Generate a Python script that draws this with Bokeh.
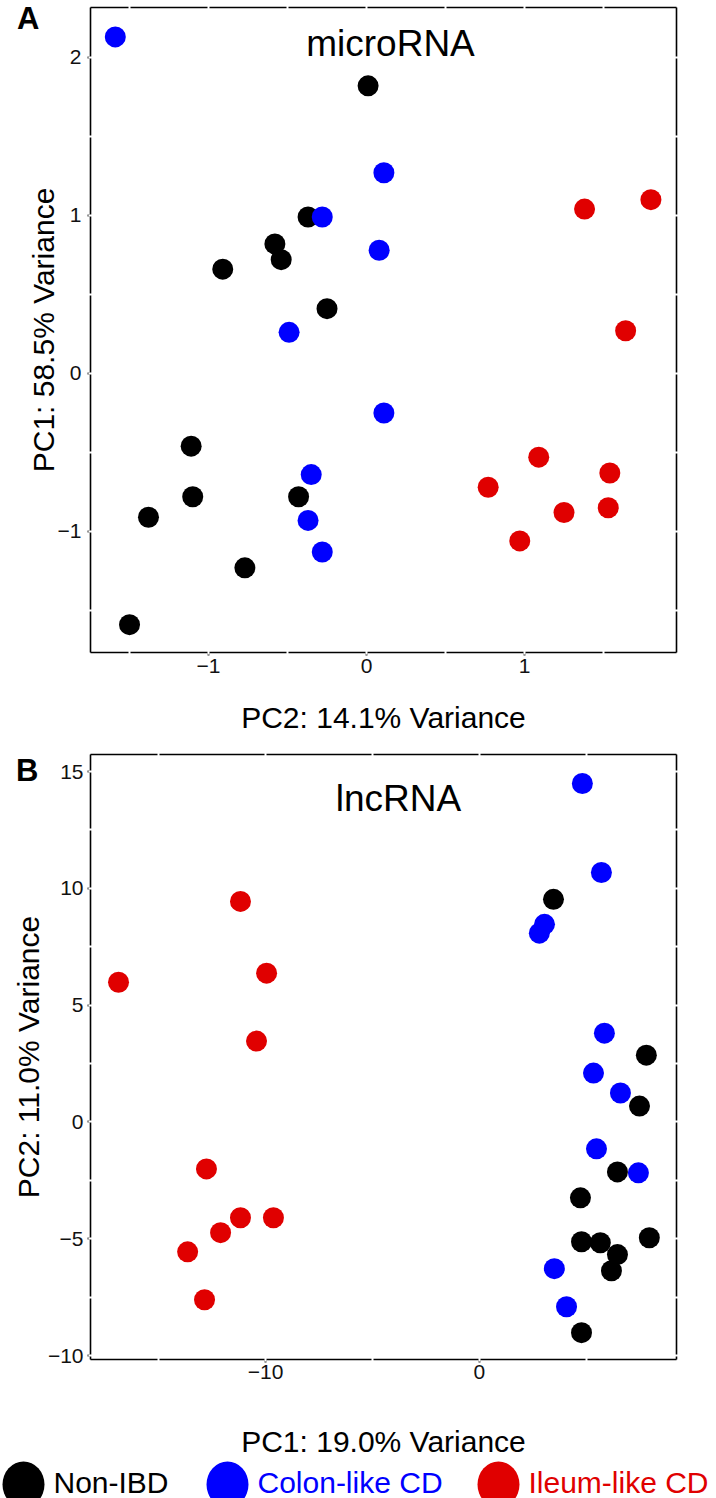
import math
from bokeh.plotting import figure
from bokeh.layouts import column, row
from bokeh.models import (Range1d, LinearAxis, SingleIntervalTicker, FixedTicker, Label,
                          ColumnDataSource, CustomJSTickFormatter)
from bokeh.core.properties import value
from bokeh.embed import file_html
from bokeh.resources import INLINE

# ---------------- data ----------------
groups = ["Non-IBD", "Colon-like CD", "Ileum-like CD"]
colors = ["#000000", "#0000ff", "#e00000"]

# Panel A (microRNA): x = PC2, y = PC1
mi_nonibd_x = [0.01, -0.37, -0.58, -0.54, -0.91, -0.25, -1.11, -1.10, -1.38, -0.43, -0.77, -1.50]
mi_nonibd_y = [1.82, 0.99, 0.82, 0.72, 0.66, 0.41, -0.46, -0.78, -0.91, -0.78, -1.23, -1.59]
mi_colon_x = [-1.59, 0.11, -0.28, 0.08, -0.49, 0.11, -0.35, -0.37, -0.28]
mi_colon_y = [2.13, 1.27, 0.99, 0.78, 0.26, -0.25, -0.64, -0.93, -1.13]
mi_ileum_x = [1.38, 1.80, 1.64, 1.09, 0.77, 1.54, 1.25, 1.53, 0.97]
mi_ileum_y = [1.04, 1.10, 0.27, -0.53, -0.72, -0.63, -0.88, -0.85, -1.06]

# Panel B (lncRNA): x = PC1, y = PC2
lnc_nonibd_x = [3.46, 7.80, 7.48, 6.45, 4.72, 4.77, 5.65, 6.45, 6.17, 7.94, 4.77]
lnc_nonibd_y = [9.53, 2.86, 0.68, -2.14, -3.25, -5.13, -5.17, -5.68, -6.37, -4.96, -9.02]
lnc_colon_x = [4.81, 5.70, 3.04, 2.80, 5.84, 5.33, 6.59, 5.47, 7.43, 3.50, 4.07]
lnc_colon_y = [14.49, 10.68, 8.46, 8.08, 3.80, 2.09, 1.24, -1.15, -2.18, -6.28, -7.91]
lnc_ileum_x = [-16.87, -11.17, -9.95, -10.42, -12.76, -11.17, -9.63, -12.10, -13.64, -12.85]
lnc_ileum_y = [5.98, 9.44, 6.37, 3.46, -2.01, -4.10, -4.10, -4.74, -5.56, -7.61]

FONT = "Liberation Sans"
minus_fmt = "return tick < 0 ? '\u2212' + Math.abs(tick) : String(tick);"


def grid_positions(lo, hi, step):
    return [k * step for k in range(math.ceil(lo / step), math.floor(hi / step) + 1)]


def style_main_axis(ax, label, label_standoff, tick_standoff):
    ax.axis_label = label
    ax.axis_label_text_font = FONT
    ax.axis_label_text_font_size = "30px"
    ax.axis_label_text_font_style = "normal"
    ax.axis_label_text_color = "#000000"
    ax.axis_label_standoff = label_standoff
    ax.major_label_text_font = FONT
    ax.major_label_text_font_size = "21px"
    ax.major_label_text_color = "#111111"
    ax.major_label_standoff = tick_standoff
    ax.formatter = CustomJSTickFormatter(code=minus_fmt)
    ax.axis_line_color = "#000000"
    ax.axis_line_width = 1.6
    ax.major_tick_line_color = "#333333"
    ax.major_tick_line_width = 2
    ax.major_tick_out = 3
    ax.major_tick_in = 0
    ax.minor_tick_line_color = "#ffffff"
    ax.minor_tick_line_width = 2
    ax.minor_tick_in = 2
    ax.minor_tick_out = 2


def border_axis(lo, hi, step):
    # plain border line with white notches at every grid position (no labels)
    ax = LinearAxis(ticker=FixedTicker(ticks=[], minor_ticks=grid_positions(lo, hi, step)))
    ax.major_label_standoff = 0
    ax.axis_line_color = "#000000"
    ax.axis_line_width = 1.6
    ax.major_tick_line_color = None
    ax.minor_tick_line_color = "#ffffff"
    ax.minor_tick_line_width = 2
    ax.minor_tick_in = 2
    ax.minor_tick_out = 2
    return ax


def letter_axis(letter, y_pos, standoff):
    # label-only outer axis that carries the panel letter
    ax = LinearAxis(ticker=FixedTicker(ticks=[y_pos], minor_ticks=[]),
                    formatter=CustomJSTickFormatter(code="return '%s';" % letter))
    ax.axis_line_color = None
    ax.major_tick_line_color = None
    ax.major_tick_out = 0
    ax.major_tick_in = 0
    ax.major_label_standoff = standoff
    ax.major_label_text_font = FONT
    ax.major_label_text_font_size = "31px"
    ax.major_label_text_font_style = "bold"
    ax.major_label_text_color = "#000000"
    return ax


def make_panel(xr, yr, xint, yint, fw, fh, bl, br, bt, bb, xlab, ylab,
               xls, yls, xts, yts, series, title, title_xy):
    p = figure(frame_width=fw, frame_height=fh,
               x_range=Range1d(*xr), y_range=Range1d(*yr),
               output_backend="svg", toolbar_location=None,
               min_border_left=bl, min_border_right=br,
               min_border_top=bt, min_border_bottom=bb,
               outline_line_color=None,
               background_fill_color="white", border_fill_color="white")
    p.grid.visible = False
    p.xaxis.ticker = SingleIntervalTicker(interval=xint, num_minor_ticks=2)
    p.yaxis.ticker = SingleIntervalTicker(interval=yint, num_minor_ticks=2)
    style_main_axis(p.xaxis[0], xlab, xls, xts)
    style_main_axis(p.yaxis[0], ylab, yls, yts)
    p.add_layout(border_axis(xr[0], xr[1], xint / 2), "above")
    p.add_layout(border_axis(yr[0], yr[1], yint / 2), "right")

    for (xs, ys), col in zip(series, colors):
        p.scatter(xs, ys, size=21, fill_color=col, line_color=None)

    p.add_layout(Label(x=title_xy[0], y=title_xy[1], x_units="screen", y_units="screen",
                       text=title, text_font=FONT, text_font_size="37px",
                       text_align="center", text_baseline="alphabetic",
                       text_color="#000000"))
    return p


pA = make_panel(xr=(-1.747, 1.962), yr=(-1.766, 2.316), xint=1, yint=1,
                fw=586, fh=645, bl=90, br=40, bt=7, bb=100,
                xlab="PC2: 14.1% Variance", ylab="PC1: 58.5% Variance",
                xls=25, yls=-5, xts=3, yts=6,
                series=[(mi_nonibd_x, mi_nonibd_y), (mi_colon_x, mi_colon_y),
                        (mi_ileum_x, mi_ileum_y)],
                title="microRNA", title_xy=(300, 609))
pA.add_layout(letter_axis("A", 2.246, -16), "left")

pB = make_panel(xr=(-18.18, 9.21), yr=(-10.17, 15.73), xint=10, yint=5,
                fw=586, fh=605, bl=90, br=40, bt=0, bb=97,
                xlab="PC1: 19.0% Variance", ylab="PC2: 11.0% Variance",
                xls=43, yls=0, xts=2, yts=4,
                series=[(lnc_nonibd_x, lnc_nonibd_y), (lnc_colon_x, lnc_colon_y),
                        (lnc_ileum_x, lnc_ileum_y)],
                title="lncRNA", title_xy=(308, 561))
pB.add_layout(letter_axis("B", 15.05, -30), "left")

# ---------------- legend row ----------------
leg_x = [23, 227, 498]          # layout positions of legend keys (px)
leg_text_x = [x + 30 for x in leg_x]
leg = ColumnDataSource(dict(x=leg_x, tx=leg_text_x, y=[18] * 3, ty=[20] * 3,
                            label=groups, color=colors))
pL = figure(width=716, height=42, x_range=Range1d(0, 716), y_range=Range1d(0, 42),
            output_backend="svg", toolbar_location=None,
            x_axis_type=None, y_axis_type=None, min_border=0,
            outline_line_color=None)
pL.grid.visible = False
pL.ellipse(x="x", y="y", width=42, height=46, width_units="screen",
           height_units="screen", fill_color="color", line_color=None, source=leg)
pL.text(x="tx", y="ty", text="label", text_color="color", source=leg,
        text_font=value(FONT), text_font_size=value("30px"),
        text_baseline="middle", text_align="left")

layout = column(pA, pB, row(pL), spacing=0)
open("out.html", "w").write(file_html(layout, INLINE))
